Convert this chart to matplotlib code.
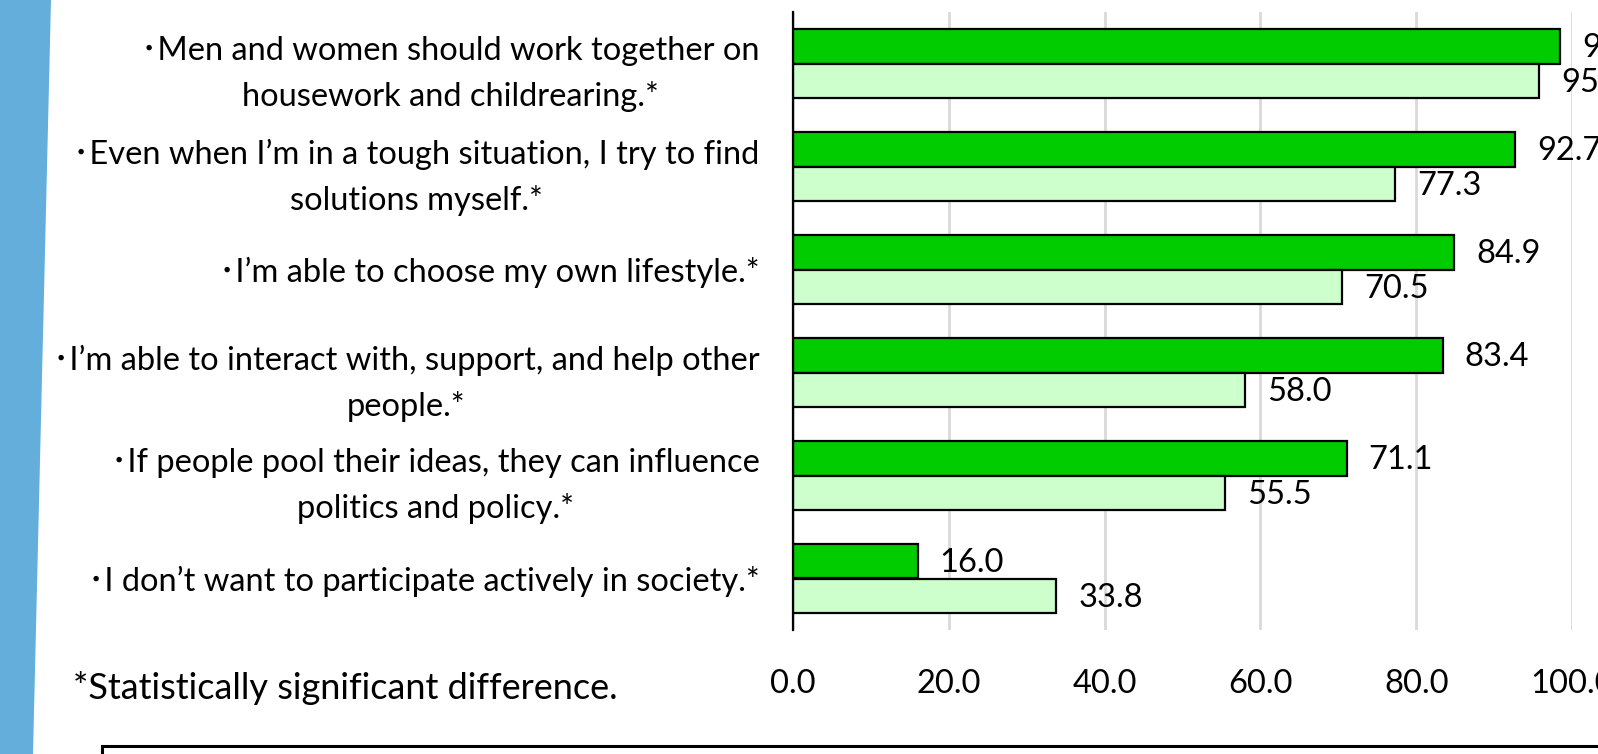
import matplotlib
matplotlib.use("Agg")
import matplotlib.pyplot as plt
import numpy as np
from matplotlib.patches import Polygon, Rectangle

plt.rcParams['font.family'] = ['Lato', 'Noto Sans CJK JP', 'DejaVu Sans']

INK = "#000000"
DARK = "#00CC00"
LIGHT = "#CCFFCC"
GRID = "#D9D9D9"
STRIPE = "#64AEDB"

categories = [
    "･Men and women should work together on\nhousework and childrearing.*",
    "･Even when I’m in a tough situation, I try to find\nsolutions myself.*",
    "･I’m able to choose my own lifestyle.*",
    "･I’m able to interact with, support, and help other\npeople.*",
    "･If people pool their ideas, they can influence\npolitics and policy.*",
    "･I don’t want to participate actively in society.*",
]
series_dark = [98.5, 92.7, 84.9, 83.4, 71.1, 16.0]
series_light = [95.8, 77.3, 70.5, 58.0, 55.5, 33.8]
xticks = [0, 20, 40, 60, 80, 100]

FS = 23.5

fig = plt.figure(figsize=(15.98, 7.54), dpi=100)
ax = fig.add_axes([793 / 1598, 1 - 630 / 754, (1572 - 793) / 1598, (630 - 12) / 754])

y = np.arange(len(categories))
h = 0.335
ax.barh(y - h / 2, series_dark, height=h, color=DARK, edgecolor=INK, lw=1.6, zorder=3)
ax.barh(y + h / 2, series_light, height=h, color=LIGHT, edgecolor=INK, lw=1.6, zorder=3)

# value labels just past each bar end
for yi, v in zip(y, series_dark):
    ax.text(v + 2.8, yi - h / 2 + 0.02, f"{v:.1f}", va="center", ha="left", fontsize=FS,
            color=INK, clip_on=False)
for yi, v in zip(y, series_light):
    ax.text(v + 2.8, yi + h / 2 + 0.02, f"{v:.1f}", va="center", ha="left", fontsize=FS,
            color=INK, clip_on=False)

ax.set_xlim(0, 100)
ax.set_ylim(len(categories) - 0.5, -0.5)
ax.set_xticks(xticks)
ax.set_xticklabels([f"{t:.1f}" for t in xticks], fontsize=FS)
ax.set_yticks(y)
ax.set_yticklabels(categories, fontsize=FS)
for lbl in ax.get_yticklabels():
    lbl.set_multialignment("center")
    lbl.set_linespacing(1.6)
ax.tick_params(axis="both", length=0)
ax.tick_params(axis="x", pad=28)
ax.tick_params(axis="y", pad=24)
ax.xaxis.grid(True, color=GRID, lw=2)
ax.set_axisbelow(True)
for s in ["top", "right", "bottom"]:
    ax.spines[s].set_visible(False)
ax.spines["left"].set_linewidth(1.6)
ax.spines["left"].set_zorder(4)

# left decorative stripe
fig.patches.append(Polygon([[0, 1], [51 / 1598, 1], [33 / 1598, 0], [0, 0]],
                           closed=True, transform=fig.transFigure,
                           facecolor=STRIPE, edgecolor="none", zorder=0))

fig.text(73 / 1598, 1 - 688 / 754, "*Statistically significant difference.",
         fontsize=26, ha="left", va="center", color=INK)

# box at the bottom edge
fig.patches.append(Rectangle((102 / 1598, -0.05), 1.0, 0.05 + (754 - 746) / 754,
                             transform=fig.transFigure, facecolor="none",
                             edgecolor=INK, lw=2.2))

fig.savefig("out.png", dpi=100)
